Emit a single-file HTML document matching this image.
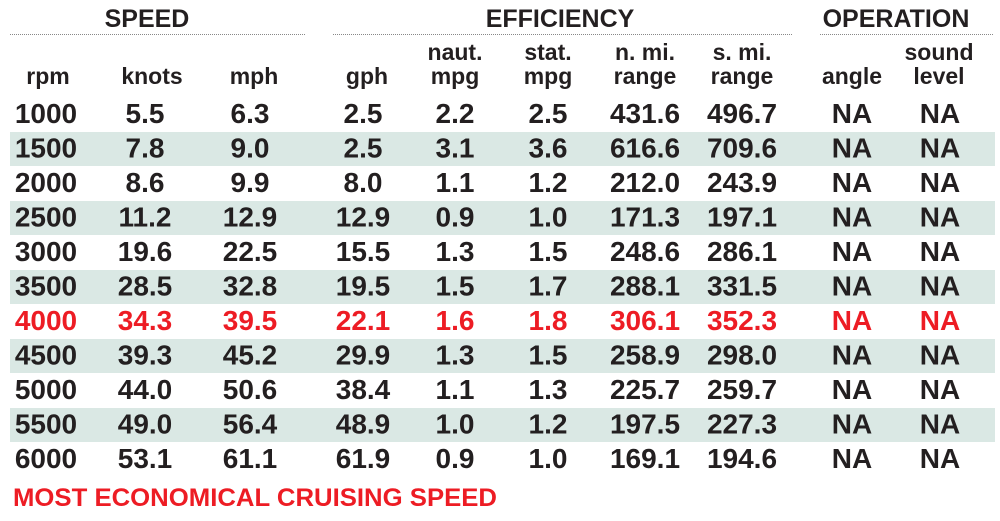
<!DOCTYPE html>
<html><head><meta charset="utf-8"><style>
html,body{margin:0;padding:0;background:#fff;}
svg{display:block;}
text{font-family:"Liberation Sans",sans-serif;font-weight:bold;}
</style></head><body>
<svg width="1000" height="521" viewBox="0 0 1000 521" xmlns="http://www.w3.org/2000/svg">
<g fill="#dae8e4">
<rect x="10" y="132" width="985" height="34"/>
<rect x="10" y="201" width="985" height="34"/>
<rect x="10" y="270" width="985" height="34"/>
<rect x="10" y="339" width="985" height="34"/>
<rect x="10" y="408" width="985" height="34"/>
</g>
<g stroke="#888" stroke-width="1" stroke-dasharray="1,1">
<line x1="10" y1="34.5" x2="306" y2="34.5"/>
<line x1="333" y1="34.5" x2="792" y2="34.5"/>
<line x1="820" y1="34.5" x2="993" y2="34.5"/>
</g>
<g fill="#231f20" font-size="25" text-anchor="middle">
<text x="147" y="27">SPEED</text>
<text x="560" y="27">EFFICIENCY</text>
<text x="896" y="27">OPERATION</text>
</g>
<g fill="#231f20" font-size="23" text-anchor="middle">
<text x="48" y="84">rpm</text>
<text x="152" y="84">knots</text>
<text x="254" y="84">mph</text>
<text x="367" y="84">gph</text>
<text x="455" y="60">naut.</text><text x="455" y="84">mpg</text>
<text x="548" y="60">stat.</text><text x="548" y="84">mpg</text>
<text x="645" y="60">n. mi.</text><text x="645" y="84">range</text>
<text x="742" y="60">s. mi.</text><text x="742" y="84">range</text>
<text x="852" y="84">angle</text>
<text x="939" y="60">sound</text><text x="939" y="84">level</text>
</g>
<g font-size="28" text-anchor="middle" fill="#231f20">
<g transform="translate(0,123)"><text x="46">1000</text><text x="145">5.5</text><text x="250">6.3</text><text x="363">2.5</text><text x="455">2.2</text><text x="548">2.5</text><text x="645">431.6</text><text x="742">496.7</text><text x="852">NA</text><text x="940">NA</text></g>
<g transform="translate(0,157.5)"><text x="46">1500</text><text x="145">7.8</text><text x="250">9.0</text><text x="363">2.5</text><text x="455">3.1</text><text x="548">3.6</text><text x="645">616.6</text><text x="742">709.6</text><text x="852">NA</text><text x="940">NA</text></g>
<g transform="translate(0,192)"><text x="46">2000</text><text x="145">8.6</text><text x="250">9.9</text><text x="363">8.0</text><text x="455">1.1</text><text x="548">1.2</text><text x="645">212.0</text><text x="742">243.9</text><text x="852">NA</text><text x="940">NA</text></g>
<g transform="translate(0,226.5)"><text x="46">2500</text><text x="145">11.2</text><text x="250">12.9</text><text x="363">12.9</text><text x="455">0.9</text><text x="548">1.0</text><text x="645">171.3</text><text x="742">197.1</text><text x="852">NA</text><text x="940">NA</text></g>
<g transform="translate(0,261)"><text x="46">3000</text><text x="145">19.6</text><text x="250">22.5</text><text x="363">15.5</text><text x="455">1.3</text><text x="548">1.5</text><text x="645">248.6</text><text x="742">286.1</text><text x="852">NA</text><text x="940">NA</text></g>
<g transform="translate(0,295.5)"><text x="46">3500</text><text x="145">28.5</text><text x="250">32.8</text><text x="363">19.5</text><text x="455">1.5</text><text x="548">1.7</text><text x="645">288.1</text><text x="742">331.5</text><text x="852">NA</text><text x="940">NA</text></g>
<g transform="translate(0,330)" fill="#ed1c24"><text x="46">4000</text><text x="145">34.3</text><text x="250">39.5</text><text x="363">22.1</text><text x="455">1.6</text><text x="548">1.8</text><text x="645">306.1</text><text x="742">352.3</text><text x="852">NA</text><text x="940">NA</text></g>
<g transform="translate(0,364.5)"><text x="46">4500</text><text x="145">39.3</text><text x="250">45.2</text><text x="363">29.9</text><text x="455">1.3</text><text x="548">1.5</text><text x="645">258.9</text><text x="742">298.0</text><text x="852">NA</text><text x="940">NA</text></g>
<g transform="translate(0,399)"><text x="46">5000</text><text x="145">44.0</text><text x="250">50.6</text><text x="363">38.4</text><text x="455">1.1</text><text x="548">1.3</text><text x="645">225.7</text><text x="742">259.7</text><text x="852">NA</text><text x="940">NA</text></g>
<g transform="translate(0,433.5)"><text x="46">5500</text><text x="145">49.0</text><text x="250">56.4</text><text x="363">48.9</text><text x="455">1.0</text><text x="548">1.2</text><text x="645">197.5</text><text x="742">227.3</text><text x="852">NA</text><text x="940">NA</text></g>
<g transform="translate(0,468)"><text x="46">6000</text><text x="145">53.1</text><text x="250">61.1</text><text x="363">61.9</text><text x="455">0.9</text><text x="548">1.0</text><text x="645">169.1</text><text x="742">194.6</text><text x="852">NA</text><text x="940">NA</text></g>
</g>
<text x="13" y="506" font-size="25" fill="#ed1c24" textLength="484" lengthAdjust="spacingAndGlyphs">MOST ECONOMICAL CRUISING SPEED</text>
</svg>
</body></html>
